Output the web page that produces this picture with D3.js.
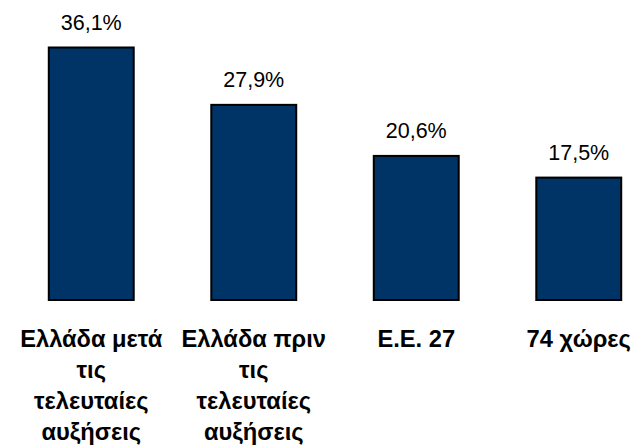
<!DOCTYPE html>
<html>
<head>
<meta charset="utf-8">
<script src="https://cdn.jsdelivr.net/npm/d3@7"></script>
<style>
  html, body { margin: 0; padding: 0; background: #fff; }
  svg { display: block; }
</style>
</head>
<body>
<svg id="chart"></svg>
<script>
// label lines as they wrap in the original
var categoryLines = [
  ['Ελλάδα μετά', 'τις', 'τελευταίες', 'αυξήσεις'],
  ['Ελλάδα πριν', 'τις', 'τελευταίες', 'αυξήσεις'],
  ['Ε.Ε. 27'],
  ['74 χώρες']
]
var categories = categoryLines.map(function(l) { return l.join(' ') })
var values = [36.1, 27.9, 20.6, 17.5]
var valueLabels = ['36,1%', '27,9%', '20,6%', '17,5%']

var width = 636, height = 448
var svg = d3.select('#chart').attr('width', width).attr('height', height)

var x = d3.scaleBand()
  .domain(categories)
  .range([10, 660])
  .paddingInner(0.465)
  .paddingOuter(0.2325)

var y = d3.scaleLinear()
  .domain([0, 36.1])
  .range([300, 47.5])

var data = categories.map(function(c, i) {
  return { cat: c, lines: categoryLines[i], value: values[i], label: valueLabels[i] }
})

svg.selectAll('rect.bar')
  .data(data)
  .enter()
  .append('rect')
  .attr('class', 'bar')
  .attr('x', function(d) { return x(d.cat) + 1 })
  .attr('width', x.bandwidth() - 2)
  .attr('y', function(d) { return y(d.value) })
  .attr('height', function(d) { return y(0) - y(d.value) })
  .attr('fill', '#003366')
  .attr('stroke', '#000')
  .attr('stroke-width', 2)

svg.selectAll('text.val')
  .data(data)
  .enter()
  .append('text')
  .attr('class', 'val')
  .attr('x', function(d) { return x(d.cat) + x.bandwidth() / 2 })
  .attr('y', function(d) { return y(d.value) - 18 })
  .attr('text-anchor', 'middle')
  .style('font-family', 'Liberation Sans, Arial, sans-serif')
  .style('font-size', '21.5px')
  .style('fill', '#000')
  .text(function(d) { return d.label })

svg.selectAll('text.cat')
  .data(data)
  .enter()
  .append('text')
  .attr('class', 'cat')
  .attr('text-anchor', 'middle')
  .style('font-family', 'Liberation Sans, Arial, sans-serif')
  .style('font-size', '23.7px')
  .style('font-weight', 'bold')
  .style('fill', '#000')
  .each(function(d) {
    var t = d3.select(this)
    var cx = x(d.cat) + x.bandwidth() / 2
    d.lines.forEach(function(l, i) {
      t.append('tspan')
        .attr('x', cx)
        .attr('y', 347 + i * 31)
        .text(l)
    })
  })
</script>
</body>
</html>
